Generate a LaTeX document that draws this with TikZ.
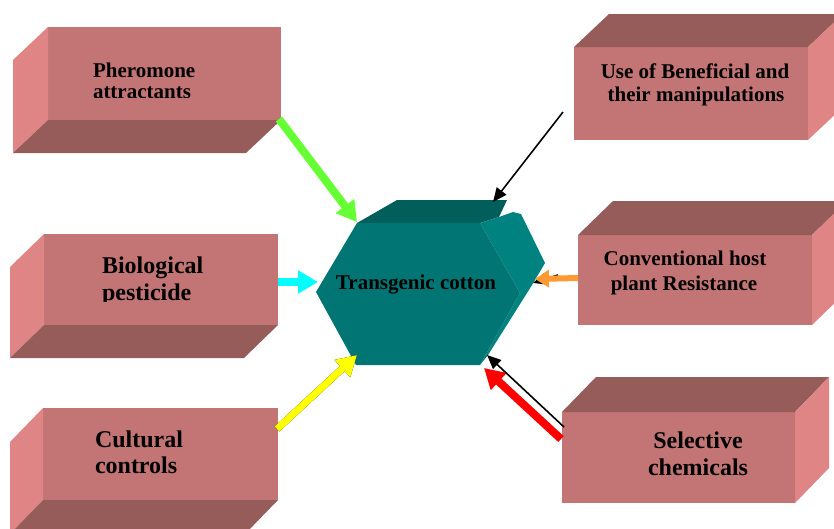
\documentclass[tikz,border=0pt]{standalone}
\usepackage{fontspec}
\setmainfont{Liberation Serif}
\usetikzlibrary{arrows.meta}
\definecolor{brickfront}{RGB}{194,117,116}
\definecolor{brickside}{RGB}{224,133,133}
\definecolor{bricktop}{RGB}{150,92,90}
\definecolor{hexfront}{RGB}{0,117,115}
\definecolor{hexside}{RGB}{0,131,128}
\definecolor{hextop}{RGB}{0,94,91}
\definecolor{arrgreen}{RGB}{102,255,51}
\definecolor{arrcyan}{RGB}{0,255,255}
\definecolor{arryellow}{RGB}{255,255,0}
\definecolor{arrred}{RGB}{255,0,0}
\definecolor{arrorange}{RGB}{255,153,51}
\begin{document}
\begin{tikzpicture}[x=1pt,y=-1pt,
  brick/.style={fill=brickfront, draw=none, inner sep=0pt, outer sep=0pt, anchor=north west},
  lbl/.style={font=\bfseries\fontsize{21}{24}\selectfont, inner sep=0pt, outer sep=0pt},
  lblbig/.style={font=\bfseries\fontsize{24}{27}\selectfont, inner sep=0pt, outer sep=0pt},
  fatarrow/.style={line width=8pt, -{Triangle[length=20pt,width=22pt]}},
  thinarrow/.style={line width=1.6pt, black, -{Triangle[length=14pt,width=12pt]}},
]
\clip (0,0) rectangle (834,528);
\fill[white] (0,0) rectangle (834,528);

% ---- left bricks (depth to lower-left)
\node[brick, minimum width=233pt, minimum height=93pt] (b1) at (48,27) {};
\fill[brickside] (b1.north west) -- (b1.south west) -- ++(-35,33) -- ++(0,-93) -- cycle;
\fill[bricktop] (b1.south west) -- (b1.south east) -- ++(-35,33) -- ++(-233,0) -- cycle;

\node[brick, minimum width=234pt, minimum height=91pt] (b2) at (44,234) {};
\fill[brickside] (b2.north west) -- (b2.south west) -- ++(-34,33) -- ++(0,-91) -- cycle;
\fill[bricktop] (b2.south west) -- (b2.south east) -- ++(-34,33) -- ++(-234,0) -- cycle;

\node[brick, minimum width=235pt, minimum height=92pt] (b3) at (43,408) {};
\fill[brickside] (b3.north west) -- (b3.south west) -- ++(-33,34) -- ++(0,-92) -- cycle;
\fill[bricktop] (b3.south west) -- (b3.south east) -- ++(-33,34) -- ++(-235,0) -- cycle;

% ---- right bricks (depth to upper-right)
\node[brick, minimum width=234pt, minimum height=93pt] (b4) at (574,47) {};
\fill[bricktop] (b4.north west) -- (b4.north east) -- ++(35,-33) -- ++(-234,0) -- cycle;
\fill[brickside] (b4.north east) -- (b4.south east) -- ++(35,-33) -- ++(0,-93) -- cycle;

\node[brick, minimum width=234pt, minimum height=90pt] (b5) at (578,235) {};
\fill[bricktop] (b5.north west) -- (b5.north east) -- ++(35,-34) -- ++(-234,0) -- cycle;
\fill[brickside] (b5.north east) -- (b5.south east) -- ++(35,-34) -- ++(0,-90) -- cycle;

\node[brick, minimum width=233pt, minimum height=91pt] (b6) at (562,412) {};
\fill[bricktop] (b6.north west) -- (b6.north east) -- ++(34,-35) -- ++(-233,0) -- cycle;
\fill[brickside] (b6.north east) -- (b6.south east) -- ++(34,-35) -- ++(0,-91) -- cycle;

% ---- labels
\node[lbl, anchor=base west] (t1a) at (93,77) {Pheromone};
\begin{scope}
  \clip (50,80) rectangle (280,97);
  \node[lbl, anchor=base west] (t1b) at (93,98) {attractants};
\end{scope}
\node[lblbig, anchor=base west] (t2a) at (102,273) {Biological};
\begin{scope}
  \clip (50,280) rectangle (280,301);
  \node[lblbig, anchor=base west] (t2b) at (102,300) {pesticide};
\end{scope}
\node[lblbig, anchor=base west] (t3a) at (95,447) {Cultural};
\node[lblbig, anchor=base west] (t3b) at (95,473) {controls};
\node[lbl, anchor=base] (t4a) at (695,78) {Use of Beneficial and};
\node[lbl, anchor=base] (t4b) at (696,101) {their manipulations};
\node[lbl, anchor=base] (t5a) at (685,265) {Conventional host};
\node[lbl, anchor=base] (t5b) at (684,290) {plant Resistance};
\node[lblbig, anchor=base] (t6a) at (698,448) {Selective};
\node[lblbig, anchor=base] (t6b) at (698,475) {chemicals};

% ---- central hexagonal block
\coordinate (hl) at (316,292);
\coordinate (htl) at (357,223);
\coordinate (htr) at (480,223);
\coordinate (hr) at (520,293);
\coordinate (hbr) at (480,365);
\coordinate (hbl) at (356,365);
\fill[hextop] (htl) -- (397,200) -- (507,200) -- (499,217) -- (htr) -- cycle;
\fill[hexside] (htr) -- (499,217) -- (513,212) -- (521,214) -- (545,263) -- (532,285) -- (488,355) -- (hbr) -- (hr) -- cycle;
\fill[hexfront] (hl) -- (htl) -- (htr) -- (hr) -- (hbr) -- (hbl) -- cycle;
\node[lbl, anchor=base] (hex) at (416,289) {Transgenic cotton};

% ---- connector end points
\coordinate (g0) at (279,119);
\coordinate (g1) at (357,222);
\coordinate (c0) at (278,282);
\coordinate (c1) at (318,282);
\coordinate (y0) at (277,429);
\coordinate (y1) at (357,355);
\coordinate (k0) at (563,112);
\coordinate (k1) at (493,202);
\coordinate (o0) at (578,278);
\coordinate (o1) at (535,279);
\coordinate (ok0) at (558,275);
\coordinate (ok1) at (533,283);
\coordinate (r0) at (561,439);
\coordinate (r1) at (484,368);
\coordinate (q0) at (564,427);
\coordinate (q1) at (487,355);

% ---- arrows
\draw[fatarrow, arrgreen] (g0) -- (g1);
\draw[fatarrow, arrcyan] (c0) -- (c1);
\draw[fatarrow, line width=7pt, black, shift={(-1.2,-1.5)}] (y0) -- (y1);
\draw[fatarrow, line width=7pt, arryellow] (y0) -- (y1);
\draw[thinarrow] (k0) -- (k1);
\draw[thinarrow] (ok0) -- (ok1);
\draw[line width=6pt, arrorange, -{Triangle[length=14pt,width=17pt]}] (o0) -- (o1);
\draw[fatarrow, arrred] (r0) -- (r1);
\draw[thinarrow] (q0) -- (q1);
\end{tikzpicture}
\end{document}
